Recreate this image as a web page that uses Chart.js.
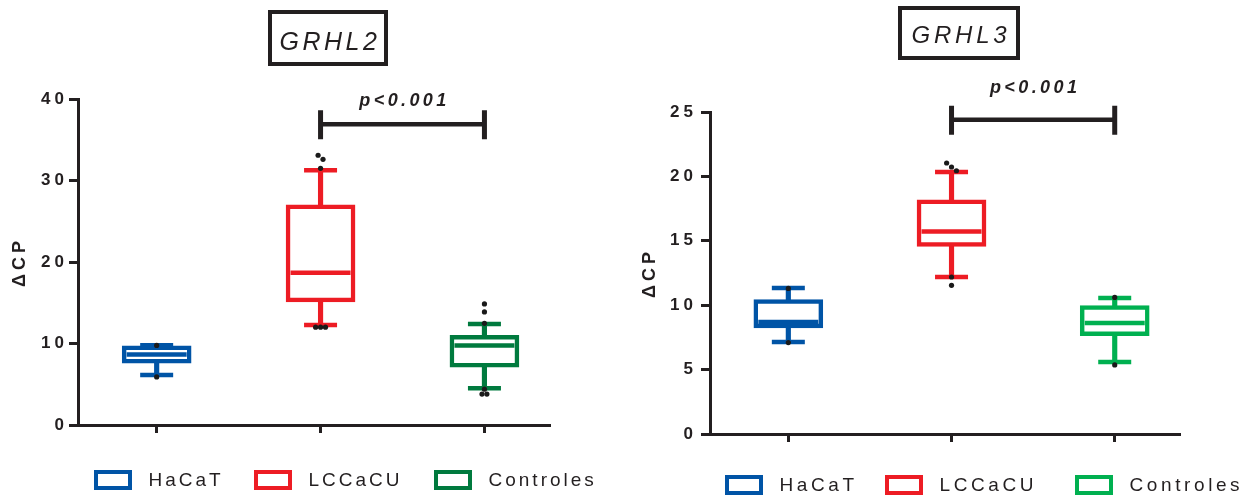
<!DOCTYPE html>
<html>
<head>
<meta charset="utf-8">
<script src="https://cdn.jsdelivr.net/npm/chart.js@4.4.1/dist/chart.umd.min.js"></script>
<style>
  html, body { margin: 0; padding: 0; background: #fff; }
  #wrap { position: relative; width: 1247px; height: 499px; overflow: hidden; background: #fff; }
  canvas { position: absolute; top: 0; }
  #grhl2 { left: 0; }
  #grhl3 { left: 624px; }
</style>
</head>
<body>
<div id="wrap">
  <canvas id="grhl2" width="624" height="499"></canvas>
  <canvas id="grhl3" width="623" height="499"></canvas>
</div>
<script>
// Groups shown on both panels
const groups = ['HaCaT', 'LCCaCU', 'Controles'];

// GRHL2 – ΔCP box plot (whisker low, Q1, median, Q3, whisker high)
const grhl2Min    = [6.13, 12.27, 4.5];
const grhl2Q1     = [7.6, 15.1, 7.1];
const grhl2Median = [8.66, 18.67, 9.75];
const grhl2Q3     = [9.7, 27.0, 11.0];
const grhl2Max    = [9.8, 31.26, 12.4];
const grhl2Points = [[9.76, 5.9], [33.1, 32.6, 31.5, 12.0, 12.0, 12.0], [14.85, 13.87, 12.47, 4.4, 3.8, 3.8]];
const grhl2Ticks  = [0, 10, 20, 30, 40];

// GRHL3 – ΔCP box plot
const grhl3Min    = [7.14, 12.19, 5.59];
const grhl3Q1     = [8.23, 14.57, 7.63];
const grhl3Median = [8.7, 15.73, 8.62];
const grhl3Q3     = [10.43, 18.19, 9.98];
const grhl3Max    = [11.33, 20.34, 10.56];
const grhl3Points = [[11.3, 7.1], [21.04, 20.73, 20.44, 12.19, 11.54], [10.6, 5.36]];
const grhl3Ticks  = [0, 5, 10, 15, 20, 25];

const pLabel = 'p<0.001';

const FONT = "'Liberation Sans', Arial, Helvetica, sans-serif";
const INK = '#231f20';

// Spread overlapping dots sideways so tied values stay visible
function jitter(points) {
  const out = [];
  points.forEach((vals, g) => {
    const sorted = vals.slice().sort((a, b) => b - a);
    let cluster = [];
    const flush = () => {
      cluster.forEach((v, k) => out.push({ x: g + (k - (cluster.length - 1) / 2) * 0.03, y: v }));
      cluster = [];
    };
    sorted.forEach(v => {
      if (cluster.length && Math.abs(cluster[cluster.length - 1] - v) > 0.6) flush();
      cluster.push(v);
    });
    flush();
  });
  return out;
}

// Letter spacing for all text the library draws on a panel
const spacingPlugin = {
  id: 'spacing',
  beforeUpdate(chart, args, opts) { chart.ctx.letterSpacing = opts.value; },
  beforeDraw(chart, args, opts) { chart.ctx.letterSpacing = opts.value; }
};

// Boxed gene title, significance bracket and legend row
const decorPlugin = {
  id: 'decor',
  afterDraw(chart, args, o) {
    const ctx = chart.ctx;
    const xs = chart.scales.x, ys = chart.scales.y;
    ctx.save();

    // title frame and italic gene name
    const [bx, by, bw, bh] = o.titleBox;
    ctx.strokeStyle = INK;
    ctx.lineWidth = 4;
    ctx.strokeRect(bx + 2, by + 2, bw - 4, bh - 4);
    ctx.fillStyle = INK;
    ctx.font = `italic ${o.titleSize}px ${FONT}`;
    ctx.letterSpacing = o.titleSpacing;
    ctx.textAlign = 'center';
    ctx.textBaseline = 'alphabetic';
    ctx.fillText(o.title, bx + bw / 2 + 2, o.titleBaseline);

    // bracket between the two compared groups
    const x1 = xs.getPixelForValue(o.bracket.from);
    const x2 = xs.getPixelForValue(o.bracket.to);
    const yb = ys.getPixelForValue(o.bracket.value);
    ctx.lineWidth = 4.5;
    ctx.beginPath();
    ctx.moveTo(x1, yb); ctx.lineTo(x2, yb);
    ctx.stroke();
    ctx.lineWidth = 5;
    ctx.beginPath();
    ctx.moveTo(x1, yb - 14); ctx.lineTo(x1, yb + 15);
    ctx.moveTo(x2, yb - 14); ctx.lineTo(x2, yb + 15);
    ctx.stroke();
    ctx.font = `italic bold 18px ${FONT}`;
    ctx.letterSpacing = '3.4px';
    ctx.fillText(pLabel, (x1 + x2) / 2 + 2, yb - o.pGap);

    // legend
    ctx.font = `${o.legendSize}px ${FONT}`;
    ctx.letterSpacing = o.legendSpacing;
    ctx.textAlign = 'left';
    ctx.textBaseline = 'middle';
    const boxes = chart.data.datasets.filter(d => d.isBox);
    boxes.forEach((d, i) => {
      const lx = o.legendX[i];
      ctx.strokeStyle = d.borderColor;
      ctx.lineWidth = 4;
      ctx.strokeRect(lx + 2, o.legendY - 8, 34, 16);
      ctx.fillStyle = INK;
      ctx.fillText(d.label, lx + 38 + 16.5, o.legendY + 1);
    });
    ctx.restore();
  }
};

function boxPanel(canvasId, s) {
  const datasets = [];
  groups.forEach((name, g) => {
    datasets.push({
      type: 'bar', label: name, isBox: true,
      data: [{ x: g, y: [s.q1[g], s.q3[g]] }],
      backgroundColor: '#ffffff', borderColor: s.colors[g],
      borderWidth: 4.5, borderSkipped: false,
      barThickness: 69, grouped: false, order: 3
    });
    datasets.push({
      type: 'bar', label: name + ' whiskers',
      data: [{ x: g, y: [s.min[g], s.max[g]] }],
      backgroundColor: s.colors[g], borderWidth: 0,
      barThickness: 4.5, grouped: false, order: 4
    });
  });
  datasets.push({
    type: 'scatter', label: 'caps',
    data: groups.flatMap((_, g) => [{ x: g, y: s.min[g] }, { x: g, y: s.max[g] }]),
    pointStyle: 'line', pointRadius: 16.5, pointBorderWidth: 4.5,
    pointBorderColor: c => s.colors[Math.round(c.raw.x)], order: 2
  });
  datasets.push({
    type: 'scatter', label: 'medians',
    data: groups.map((_, g) => ({ x: g, y: s.median[g] })),
    pointStyle: 'line', pointRadius: 30, pointBorderWidth: 4.5,
    pointBorderColor: c => s.colors[Math.round(c.raw.x)], order: 2
  });
  datasets.push({
    type: 'scatter', label: 'values',
    data: jitter(s.points),
    pointRadius: 2.6, pointBorderWidth: 0,
    pointBackgroundColor: '#1a1a1a', order: 1
  });

  return new Chart(document.getElementById(canvasId), {
    type: 'bar',
    data: { datasets },
    plugins: [spacingPlugin, decorPlugin],
    options: {
      responsive: false,
      animation: false,
      events: [],
      layout: { padding: s.padding },
      scales: {
        x: {
          type: 'linear', min: -0.48, max: 2.4, offset: false,
          afterBuildTicks: sc => { sc.ticks = groups.map((_, i) => ({ value: i })); },
          ticks: { display: false },
          grid: { drawOnChartArea: false, offset: false, tickLength: 8, tickWidth: 3, tickColor: INK },
          border: { color: INK, width: 3 },
          afterFit: sc => { sc.height = 30; }
        },
        y: {
          min: 0, max: s.ticks[s.ticks.length - 1],
          afterBuildTicks: sc => { sc.ticks = s.ticks.map(v => ({ value: v })); },
          ticks: { font: { family: FONT, size: 17, weight: 'bold' }, color: INK, padding: s.tickPad },
          grid: { drawOnChartArea: false, tickLength: 9, tickWidth: 3, tickColor: INK },
          border: { color: INK, width: 3 },
          title: {
            display: true, text: 'ΔCP', color: INK,
            font: { family: FONT, size: 18, weight: 'bold' },
            padding: { top: s.titlePad, bottom: 0 }
          },
          afterFit: sc => { sc.width = s.axisWidth; }
        }
      },
      plugins: {
        legend: { display: false },
        tooltip: { enabled: false },
        spacing: { value: '4px' },
        decor: s.decor
      }
    }
  });
}

boxPanel('grhl2', {
  min: grhl2Min, q1: grhl2Q1, median: grhl2Median, q3: grhl2Q3, max: grhl2Max,
  points: grhl2Points, ticks: grhl2Ticks,
  colors: ['#0054a6', '#ed1c24', '#007a3e'],
  padding: { left: 0, top: 99, right: 74, bottom: 44 },
  axisWidth: 78, tickPad: 1, titlePad: 9,
  decor: {
    title: 'GRHL2', titleBox: [268, 10, 120, 56], titleBaseline: 50,
    titleSize: 25, titleSpacing: '3.5px',
    bracket: { from: 1, to: 2, value: 36.9 }, pGap: 18,
    legendX: [94, 254, 434], legendY: 480, legendSize: 19, legendSpacing: '3px'
  }
});

boxPanel('grhl3', {
  min: grhl3Min, q1: grhl3Q1, median: grhl3Median, q3: grhl3Q3, max: grhl3Max,
  points: grhl3Points, ticks: grhl3Ticks,
  colors: ['#0054a6', '#ed1c24', '#00b050'],
  padding: { left: 0, top: 112, right: 67, bottom: 35 },
  axisWidth: 86, tickPad: 4, titlePad: 15,
  decor: {
    title: 'GRHL3', titleBox: [274, 6, 122, 54], titleBaseline: 43,
    titleSize: 24, titleSpacing: '3.8px',
    bracket: { from: 1, to: 2, value: 24.4 }, pGap: 27,
    legendX: [101, 261, 451], legendY: 485, legendSize: 19, legendSpacing: '3.6px'
  }
});
</script>
</body>
</html>
